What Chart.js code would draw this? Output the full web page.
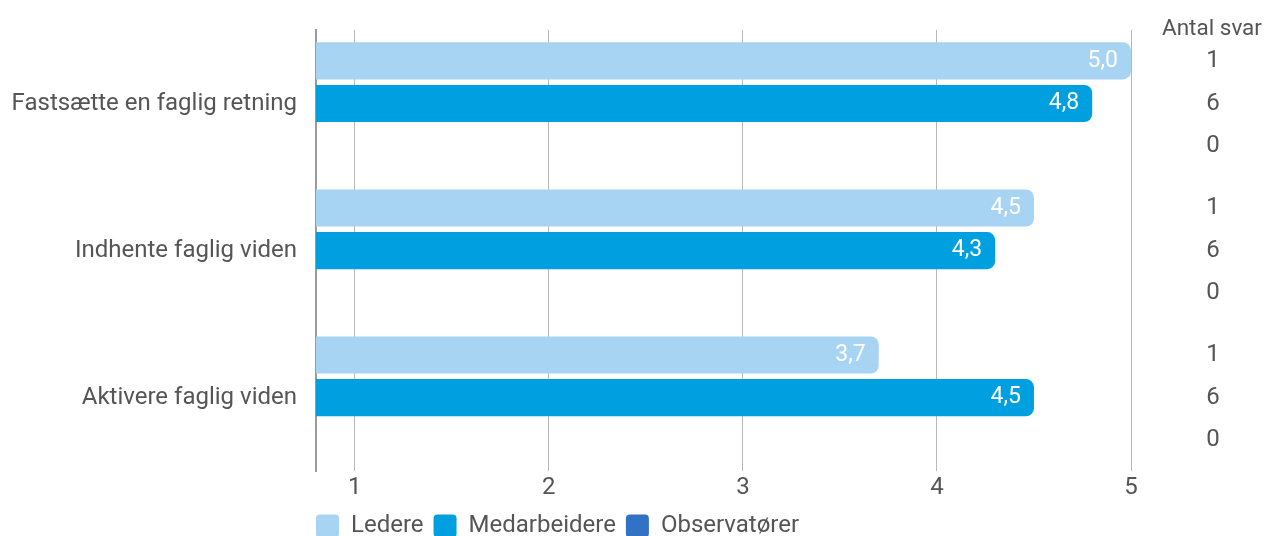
<!DOCTYPE html>
<html>
<head>
<meta charset="utf-8">
<script src="https://cdn.jsdelivr.net/npm/chart.js@4.4.0/dist/chart.umd.min.js"></script>
<style>
  html, body { margin: 0; padding: 0; background: #fff; overflow: hidden; }
  #wrap { width: 1268px; height: 548px; }
</style>
</head>
<body>
<div id="wrap"><canvas id="chart"></canvas></div>
<script>
// data
const categories = ["Fastsætte en faglig retning", "Indhente faglig viden", "Aktivere faglig viden"];
const seriesNames = ["Ledere", "Medarbeidere", "Observatører"];
const ledere = [5.0, 4.5, 3.7];
const medarbeidere = [4.8, 4.3, 4.5];
const observatorer = [null, null, null];
const antalSvar = [[1, 1, 1], [6, 6, 6], [0, 0, 0]]; // per serie, per kategori
const xTicks = [1, 2, 3, 4, 5];
const colors = ["#a8d4f4", "#009fe0", "#3172c4"];

const txt = "#555555";
const font = "Roboto";

// tekster inde i barerne + kolonnen "Antal svar"
const labelsPlugin = {
    id: "labels",
    afterLayout(chart) {
        // legend skal starte ved plot-kanten
        chart.legend.left = chart.chartArea.left - 10;
    },
    afterDatasetsDraw(chart) {
        const ctx = chart.ctx;
        const colX = 1212;
        ctx.save();
        ctx.font = "22.5px " + font;
        ctx.fillStyle = txt;
        ctx.textAlign = "center";
        ctx.textBaseline = "middle";
        ctx.fillText("Antal svar", colX, 29);
        chart.data.datasets.forEach((ds, i) => {
            const meta = chart.getDatasetMeta(i);
            meta.data.forEach((bar, j) => {
                ctx.font = "24px " + font;
                ctx.fillStyle = txt;
                ctx.textAlign = "center";
                ctx.fillText(String(antalSvar[i][j]), colX + 1, bar.y);
                const v = ds.data[j];
                if (v !== null) {
                    ctx.font = "23px " + font;
                    ctx.fillStyle = "#ffffff";
                    ctx.textAlign = "right";
                    ctx.fillText(v.toFixed(1).replace(".", ","), bar.x - 13, bar.y);
                }
            });
        });
        ctx.restore();
    }
};

new Chart(document.getElementById("chart"), {
    type: "bar",
    data: {
        labels: categories,
        datasets: [
            { label: seriesNames[0], data: ledere, backgroundColor: colors[0] },
            { label: seriesNames[1], data: medarbeidere, backgroundColor: colors[1] },
            { label: seriesNames[2], data: observatorer, backgroundColor: colors[2] }
        ]
    },
    options: {
        indexAxis: "y",
        responsive: true,
        maintainAspectRatio: false,
        animation: false,
        devicePixelRatio: 1,
        layout: { padding: { top: 30, right: 137, left: 0, bottom: 0 } },
        datasets: {
            bar: {
                barPercentage: 0.87,
                categoryPercentage: 0.87,
                borderRadius: 8,
                borderSkipped: "start"
            }
        },
        scales: {
            x: {
                min: 0.8,
                max: 5,
                afterBuildTicks: (s) => { s.ticks = xTicks.map(v => ({ value: v })); },
                grid: { color: "#b8b8b8", lineWidth: 1, drawTicks: false },
                border: { display: false },
                ticks: { color: txt, font: { family: font, size: 24 }, padding: 2 }
            },
            y: {
                afterFit: (s) => { s.width = 316; },
                grid: { display: false },
                border: { display: true, color: "#9a9a9a", width: 2 },
                ticks: { color: txt, font: { family: font, size: 24 }, padding: 11 }
            }
        },
        plugins: {
            legend: {
                position: "bottom",
                align: "start",
                labels: {
                    boxWidth: 23,
                    boxHeight: 23,
                    useBorderRadius: true,
                    borderRadius: 4,
                    padding: 10,
                    color: txt,
                    font: { family: font, size: 24 }
                }
            },
            tooltip: { enabled: false }
        }
    },
    plugins: [labelsPlugin]
});
</script>
</body>
</html>
